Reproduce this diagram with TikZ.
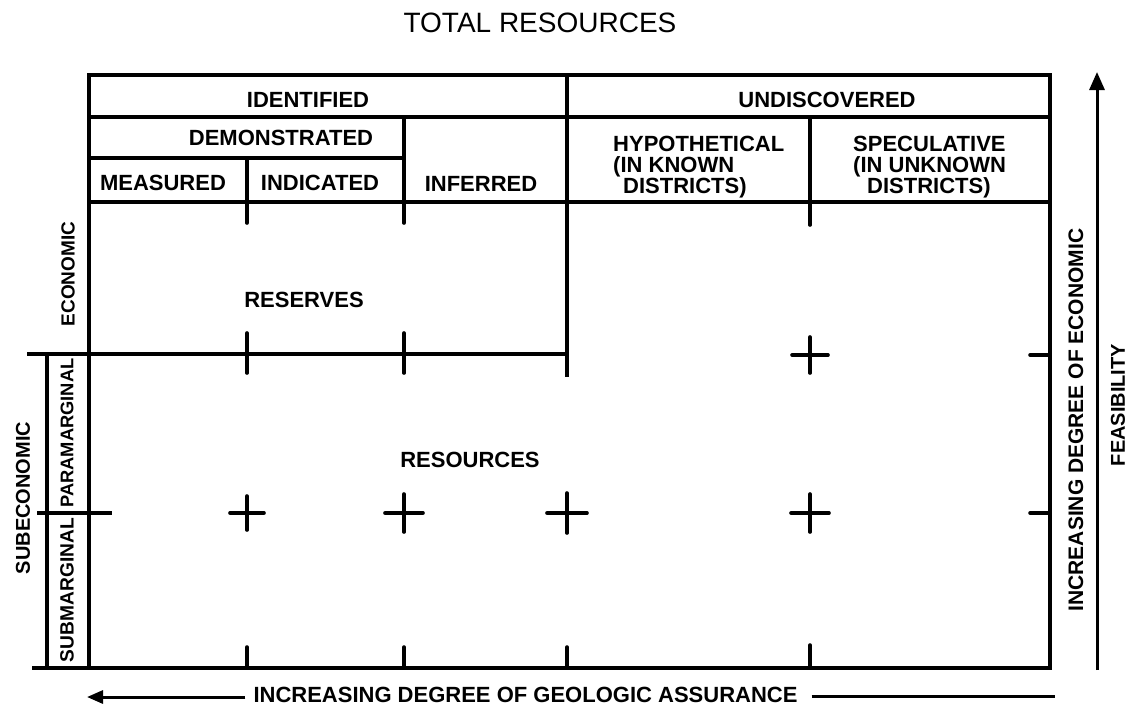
\documentclass[tikz,border=0pt]{standalone}
\usepackage{fontspec}
\setmainfont{Liberation Sans}
\usetikzlibrary{arrows.meta}
\begin{document}
\begin{tikzpicture}[x=1pt,y=-1pt,
  frame/.style={line width=4pt},
  tickmark/.style={line width=3.6pt,line cap=round},
  arrowline/.style={line width=3pt},
  lab/.style={font=\fontsize{22}{23.5}\selectfont\bfseries,inner sep=0pt},
  multilab/.style={font=\fontsize{22}{21}\selectfont\bfseries,inner sep=0pt,align=left,anchor=base west},
  vlab/.style={inner sep=0pt,rotate=90}]
\useasboundingbox (0,0) rectangle (1132,705);
% frame
\draw[frame] (89,75) rectangle (1050,668);
\draw[frame] (89,117) -- (1050,117);
\draw[frame] (89,158) -- (404,158);
\draw[frame] (89,202) -- (1050,202);
\draw[frame] (247,158) -- (247,202);
\draw[frame] (404,117) -- (404,202);
\draw[frame] (567,75) -- (567,377);
\draw[frame] (810,117) -- (810,202);
\draw[frame] (27,354) -- (567,354);
\draw[frame] (47,354) -- (47,668);
\draw[frame] (37,513) -- (112,513);
\draw[frame] (32,668) -- (1050,668);
% ticks
\foreach \x in {247,404}{
  \draw[tickmark] (\x,202) -- (\x,223);
  \draw[tickmark] (\x,333) -- (\x,373);
  \draw[tickmark] (\x,647) -- (\x,668);
}
\draw[tickmark] (567,647) -- (567,668);
\draw[tickmark] (810,202) -- (810,225);
\draw[tickmark] (810,645) -- (810,668);
\draw[tickmark] (1030,355) -- (1050,355);
\draw[tickmark] (1030,513) -- (1050,513);
% crosses
\foreach \x/\y/\r in {810/355/18, 247/513/17, 404/513/19, 567/513/20, 810/513/19}{
  \draw[tickmark] (\x-\r,\y) -- (\x+\r,\y);
  \draw[tickmark] (\x,\y-\r) -- (\x,\y+\r);
}
% title
\node[inner sep=0pt,anchor=base,font=\fontsize{28}{30}\selectfont] (title) at (540,32) {TOTAL RESOURCES};
% header labels
\node[lab,anchor=base] (ident) at (308,107) {IDENTIFIED};
\node[lab,anchor=base] (undisc) at (827,107) {UNDISCOVERED};
\node[lab,anchor=base] (demo) at (281,145) {DEMONSTRATED};
\node[lab,anchor=base] (meas) at (163,190) {MEASURED};
\node[lab,anchor=base] (indic) at (320,190) {INDICATED};
\node[lab,anchor=base] (infer) at (481,191) {INFERRED};
\node[multilab] (hypo) at (613,193) {HYPOTHETICAL\\(IN KNOWN\\\hspace*{10pt}DISTRICTS)};
\node[multilab] (spec) at (853,193) {SPECULATIVE\\(IN UNKNOWN\\\hspace*{14pt}DISTRICTS)};
\node[lab,anchor=base] (reserves) at (304,307) {RESERVES};
\node[lab,anchor=base] (resources) at (470,467) {RESOURCES};
% side labels
\node[vlab,font=\fontsize{19}{20}\selectfont\bfseries] (econ) at (68,274) {ECONOMIC};
\node[vlab,font=\fontsize{20}{21}\selectfont\bfseries] (subecon) at (23,498) {SUBECONOMIC};
\node[vlab,font=\fontsize{18.3}{20}\selectfont\bfseries] (para) at (67,433) {PARAMARGINAL};
\node[vlab,font=\fontsize{19.2}{20}\selectfont\bfseries] (submarg) at (67,590) {SUBMARGINAL};
\node[vlab,font=\fontsize{21}{22}\selectfont\bfseries] (econfeas) at (1076,420) {INCREASING DEGREE OF ECONOMIC};
\node[vlab,font=\fontsize{20}{21}\selectfont\bfseries] (feas) at (1118,405) {FEASIBILITY};
% bottom axis
\node[lab,anchor=base] (geo) at (525.5,702) {INCREASING DEGREE OF GEOLOGIC ASSURANCE};
\coordinate (lefttip) at (87,697);
\coordinate (rightend) at (1055,696);
\draw[arrowline,-{Triangle[length=16pt,width=13pt]}] ([xshift=-8pt]geo.west |- lefttip) -- (lefttip);
\draw[arrowline] ([xshift=14pt]geo.east |- rightend) -- (rightend);
% right axis
\coordinate (upbot) at (1097,670);
\coordinate (uptop) at (1097,72);
\draw[arrowline,-{Triangle[length=18pt,width=15pt]}] (upbot) -- (uptop);
\end{tikzpicture}
\end{document}
